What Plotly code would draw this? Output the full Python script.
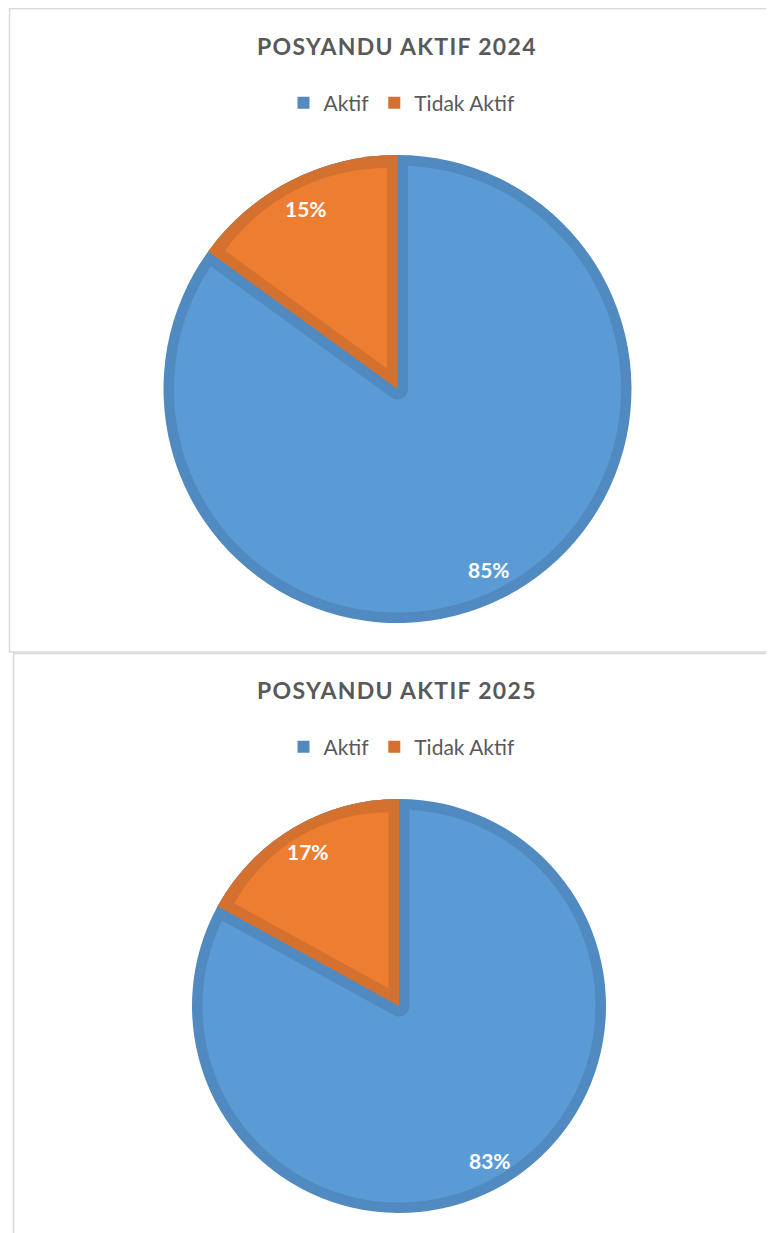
import math
import plotly.graph_objects as go

# ---------------- data ----------------
categories = ["Aktif", "Tidak Aktif"]
values_2024 = [85, 15]
values_2025 = [83, 17]
titles = ["POSYANDU AKTIF 2024", "POSYANDU AKTIF 2025"]

# ---------------- style ----------------
OFF = 8                      # default body margin of the html page
W, H = 774 - OFF, 1233 - OFF  # figure size so that it fits the window
BLUE_LIGHT, BLUE_DARK = "#5B9BD5", "#518AC1"
ORANGE_LIGHT, ORANGE_DARK = "#ED7D31", "#D4712F"
CLEAR = "rgba(0,0,0,0)"
TEXT_GREY = "#595959"
FRAME = "#D9D9D9"
RING = 10.5

# layout per chart in page pixels: pie centre/radius, title y, legend y
charts = [
    dict(values=values_2024, title=titles[0], cx=397.5, cy=389, R=234,
         title_y=46, legend_y=103, legend="legend", group="y2024"),
    dict(values=values_2025, title=titles[1], cx=399, cy=1006, R=207,
         title_y=690, legend_y=747, legend="legend2", group="y2025"),
]


def fx(px):
    return (px - OFF) / W


def fy(py):
    return 1 - (py - OFF) / H


def dom(cx, cy, r):
    return dict(x=[fx(cx - r), fx(cx + r)], y=[fy(cy + r), fy(cy - r)])


fig = go.Figure()
annotations = []

for ch in charts:
    vals, cx, cy, R = ch["values"], ch["cx"], ch["cy"], ch["R"]
    total = sum(vals)
    common = dict(labels=categories, values=vals, sort=False,
                  direction="clockwise", rotation=0, textinfo="none",
                  legendgroup=ch["group"], legend=ch["legend"])
    half = math.pi * vals[1] / total          # half-angle of small slice
    d = RING / math.sin(half)                 # apex shift for the inset

    # 1. dark base disc (gives the outer ring) - carries the legend
    fig.add_trace(go.Pie(**common, domain=dom(cx, cy, R),
                         marker=dict(colors=[BLUE_DARK, ORANGE_DARK], line=dict(width=0)),
                         showlegend=True,
                         hovertemplate="%{label}: %{percent}<extra></extra>"))
    # 2. light blue inner disc
    fig.add_trace(go.Pie(**common, domain=dom(cx, cy, R - RING),
                         marker=dict(colors=[BLUE_LIGHT, BLUE_LIGHT], line=dict(width=0)),
                         showlegend=False, hoverinfo="skip"))
    # 3. blue-dark band along the small slice's edges (stroke)
    fig.add_trace(go.Pie(**common, domain=dom(cx, cy, R - RING),
                         marker=dict(colors=[CLEAR, CLEAR],
                                     line=dict(width=2 * RING, color=[CLEAR, BLUE_DARK])),
                         showlegend=False, hoverinfo="skip"))
    # 4. orange dark wedge
    fig.add_trace(go.Pie(**common, domain=dom(cx, cy, R),
                         marker=dict(colors=[CLEAR, ORANGE_DARK], line=dict(width=0)),
                         showlegend=False, hoverinfo="skip"))
    # 5. orange light inset wedge (pulled)
    Rd = R - RING
    p = d / (Rd - d)
    fig.add_trace(go.Pie(**common, domain=dom(cx, cy, Rd), pull=[0, p],
                         marker=dict(colors=[CLEAR, ORANGE_LIGHT], line=dict(width=0)),
                         showlegend=False, hoverinfo="skip"))

    # percentage labels
    cum = 0
    for v in vals:
        theta = 2 * math.pi * (cum + v / 2) / total
        cum += v
        rr = 0.865 * R
        px = cx + rr * math.sin(theta)
        py = cy - rr * math.cos(theta)
        annotations.append(dict(
            x=fx(px), y=fy(py), xref="paper", yref="paper",
            text=f"<b>{round(100 * v / total)}%</b>", showarrow=False,
            xanchor="center", yanchor="middle",
            font=dict(family="Lato", size=21, color="white")))

    # title
    annotations.append(dict(
        x=fx(397.5), y=fy(ch["title_y"]), xref="paper", yref="paper",
        text=f'<b><span style="letter-spacing:1.3px">{ch["title"]}</span></b>',
        showarrow=False, xanchor="center", yanchor="middle",
        font=dict(family="Lato", size=23, color=TEXT_GREY)))

shapes = [
    dict(type="rect", xref="paper", yref="paper",
         x0=fx(9.5), x1=fx(800), y0=fy(652), y1=fy(8.5),
         line=dict(color=FRAME, width=1.5), layer="below"),
    dict(type="rect", xref="paper", yref="paper",
         x0=fx(13.5), x1=fx(800), y0=fy(1260), y1=fy(653.5),
         line=dict(color=FRAME, width=1.5), layer="below"),
]

legend_common = dict(orientation="h", xanchor="center", yanchor="middle",
                     x=fx(402), bgcolor=CLEAR, itemwidth=30,
                     traceorder="normal",
                     font=dict(family="Lato", size=21, color=TEXT_GREY),
                     itemclick=False, itemdoubleclick=False)

fig.update_layout(
    width=W, height=H,
    margin=dict(l=0, r=0, t=0, b=0),
    paper_bgcolor="white", plot_bgcolor="white",
    annotations=annotations, shapes=shapes,
    legend=dict(**legend_common, y=fy(charts[0]["legend_y"])),
    legend2=dict(**legend_common, y=fy(charts[1]["legend_y"])),
)

fig.write_html("out.html")
